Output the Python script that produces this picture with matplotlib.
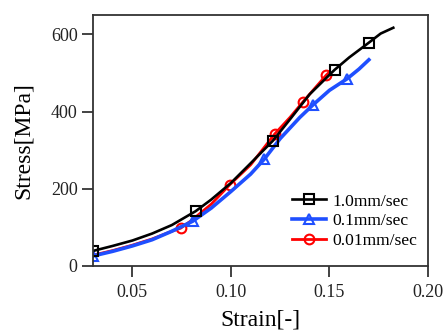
import numpy as np
import matplotlib.pyplot as plt

plt.rcParams['font.family'] = ['Liberation Serif', 'DejaVu Serif']

# 1.0mm/sec
strain_10 = [0.030, 0.040, 0.050, 0.060, 0.070, 0.0821, 0.090, 0.100, 0.110, 0.1214,
             0.130, 0.140, 0.1526, 0.160, 0.1699, 0.176, 0.1824]
stress_10 = [39, 52, 66, 84, 106, 142, 172, 215, 266, 325,
             380, 445, 508, 540, 578, 602, 617]
mark_10 = [0, 5, 9, 12, 14]

# 0.1mm/sec
strain_01 = [0.030, 0.040, 0.050, 0.060, 0.070, 0.0806, 0.090, 0.100, 0.110, 0.1168,
             0.125, 0.135, 0.1418, 0.150, 0.159, 0.165, 0.170]
stress_01 = [26, 38, 52, 68, 90, 116, 150, 193, 238, 276,
             330, 385, 418, 455, 485, 510, 534]
mark_01 = [0, 5, 9, 12, 14]

# 0.01mm/sec
strain_001 = [0.030, 0.040, 0.050, 0.060, 0.070, 0.0745, 0.080, 0.090, 0.0995, 0.110,
              0.1224, 0.130, 0.1367, 0.1485, 0.150]
stress_001 = [28, 40, 54, 70, 90, 98, 118, 160, 211, 262,
              343, 385, 426, 495, 502]
mark_001 = [5, 8, 10, 12, 13]

fig = plt.figure(figsize=(4.46, 3.32), dpi=100)
ax = fig.add_axes([0.2085, 0.1988, 0.7511, 0.756])

l3, = ax.plot(strain_001, stress_001, color='#ff0000', lw=2.0, marker='o', markevery=mark_001,
              ms=7, mfc='none', mec='#ff0000', mew=1.5, label='0.01mm/sec')
l2, = ax.plot(strain_01, stress_01, color='#1f4fff', lw=2.6, marker='^', markevery=mark_01,
              ms=7, mfc='none', mec='#1f4fff', mew=1.5, label='0.1mm/sec')
l1, = ax.plot(strain_10, stress_10, color='black', lw=1.9, marker='s', markevery=mark_10,
              ms=7, mfc='none', mec='black', mew=1.5, label='1.0mm/sec')

ax.set_xlim(0.03, 0.20)
ax.set_ylim(0, 650)
ax.set_xticks([0.05, 0.10, 0.15, 0.20])
ax.set_xticklabels(['0.05', '0.10', '0.15', '0.20'])
ax.set_yticks([0, 200, 400, 600])
ax.tick_params(direction='out', length=8, width=1.2, labelsize=13, colors='#222222')
ax.tick_params(axis='x', pad=5)
ax.tick_params(axis='y', pad=3)
ax.tick_params(top=False, right=False)
for s in ax.spines.values():
    s.set_linewidth(1.3)
    s.set_color('#333333')

ax.set_xlabel('Strain[-]', fontsize=17, labelpad=6)
ax.set_ylabel('Stress[MPa]', fontsize=17, labelpad=12)

ax.legend(handles=[l1, l2, l3], loc='upper left', bbox_to_anchor=(280 / 446, 1 - 181 / 332),
          bbox_transform=fig.transFigure, frameon=False, fontsize=12.6,
          handlelength=1.9, handletextpad=0.4, labelspacing=0.2, borderpad=0.2)

fig.savefig('out.png', dpi=100)
